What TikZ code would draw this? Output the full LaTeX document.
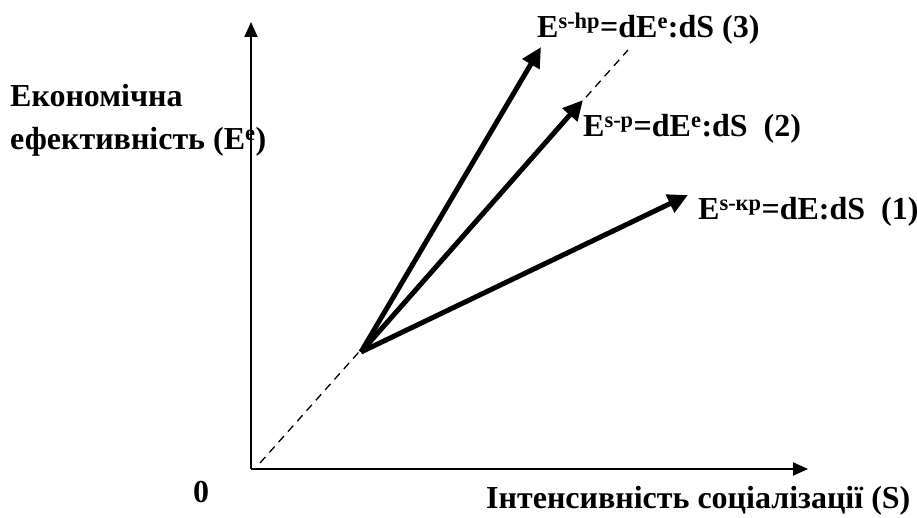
\documentclass[tikz,border=0pt]{standalone}
\usepackage{fontspec}
\setmainfont{Liberation Serif}
\usetikzlibrary{arrows.meta}
\tikzset{
  ax/.style={-{Triangle[length=15pt,width=13pt]},line width=2pt,draw=black},
  vec/.style={-{Triangle[length=20pt,width=19pt]},line width=5pt,draw=black},
  dsh/.style={dash pattern=on 8pt off 6pt,line width=1.3pt,draw=black},
  lb/.style={font=\fontsize{32}{38}\selectfont\bfseries,inner sep=0pt,anchor=base west},
}
\begin{document}
\begin{tikzpicture}[x=1pt,y=1pt]
\useasboundingbox (0,0) rectangle (917,517);
% axes
\coordinate (O) at (251,48);
\coordinate (Ytop) at (251,495);
\coordinate (Xend) at (808,48);
\draw[ax] (O) -- (Ytop);
\draw[ax] (O) -- (Xend);
% the ray through the common point
\coordinate (A) at (361,165);
\coordinate (D0) at (260,54);
\coordinate (D1) at (628,467);
\draw[dsh] (D0) -- (D1);
% three vectors
\coordinate (T3) at (541,470);
\coordinate (T2) at (583,417);
\coordinate (T1) at (688,322);
\draw[vec] (A) -- (T3);
\draw[vec] (A) -- (T2);
\draw[vec] (A) -- (T1);
% labels
\node[lb] (ylab1) at (10,410) {Економічна};
\node[lb] (ylab2) at (10,367) {ефективність (E\textsuperscript{e})};
\node[lb] (zero) at (193,15) {0};
\node[lb] (xlab) at (486,9) {Інтенсивність соціалізації (S)};
\node[lb] (l3) at (537,479) {E\textsuperscript{s-hр}=dE\textsuperscript{e}:dS (3)};
\node[lb] (l2) at (583,380) {E\textsuperscript{s-р}=dE\textsuperscript{e}:dS\ \ (2)};
\node[lb] (l1) at (698,297) {E\textsuperscript{s-кр}=dE:dS\ \ (1)};
\end{tikzpicture}
\end{document}
